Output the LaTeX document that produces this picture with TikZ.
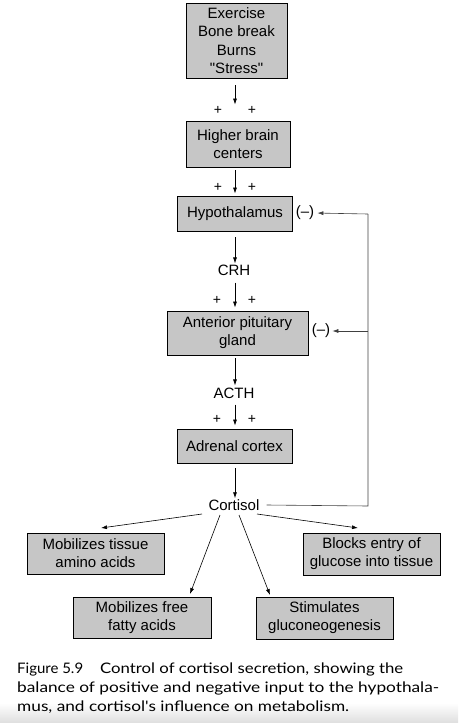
\documentclass[tikz,border=0pt]{standalone}
\usepackage{fontspec}
\usepackage{graphicx}
\setmainfont{Liberation Sans}
\newfontfamily\nomapfont{Liberation Sans}[Ligatures=ResetAll]
\newfontfamily\capfont{Lato}
\usetikzlibrary{arrows.meta,calc}
\definecolor{boxgray}{RGB}{198,198,198}
\definecolor{bandgray}{RGB}{222,222,222}
\begin{document}
\begin{tikzpicture}[x=1pt,y=-1pt,
  box/.style={draw=black,line width=0.8pt,fill=boxgray,align=center,inner sep=0pt,
    font=\fontsize{15}{18}\selectfont},
  lbl/.style={inner sep=0pt,font=\fontsize{15}{18}\selectfont},
  pl/.style={inner sep=0pt,font=\fontsize{14}{16}\selectfont},
  arr/.style={-{Latex[length=6pt,width=4pt]},line width=0.7pt},
  thinarr/.style={-{Latex[length=6pt,width=4pt]},line width=0.6pt},
  fbline/.style={line width=0.6pt,draw=black!75},
  captxt/.style={anchor=base west,inner sep=0pt,font=\capfont\fontsize{14.5}{17}\selectfont}]
\useasboundingbox (0,0) rectangle (458,723);
\shade[top color=white,bottom color=bandgray] (0,703) rectangle (458,723);

\node[box,minimum width=101pt,minimum height=75pt,font=\fontsize{15}{18.5}\selectfont] (stress) at (236.5,40.5) {Exercise\\Bone break\\Burns\\{\nomapfont"Stress"}};
\node[box,minimum width=104pt,minimum height=46pt] (brain) at (238,144) {Higher brain\\centers};
\node[box,minimum width=115pt,minimum height=35pt] (hypo) at (235,213.5) {Hypothalamus};
\node[lbl] (crh) at (234,270) {CRH};
\node[box,minimum width=141pt,minimum height=44pt] (ant) at (237.5,333) {Anterior pituitary\\gland};
\node[lbl] (acth) at (234,393) {ACTH};
\node[box,minimum width=115pt,minimum height=34pt] (adr) at (234.5,446) {Adrenal cortex};
\node[lbl] (cort) at (234,505) {Cortisol};

\node[box,minimum width=137pt,minimum height=41pt] (tissue) at (95.5,553.5) {Mobilizes tissue\\amino acids};
\node[box,minimum width=138pt,minimum height=41pt] (fatty) at (142,617.5) {Mobilizes free\\fatty acids};
\node[box,minimum width=137pt,minimum height=42pt] (gluco) at (324.5,618) {Stimulates\\gluconeogenesis};
\node[box,minimum width=137pt,minimum height=42pt] (blocks) at (371.5,554) {Blocks entry of\\glucose into tissue};

\node[lbl] (neg1) at (305,213) {(--)};
\node[lbl] (neg2) at (321,331) {(--)};

% pluses
\node[pl] (p1a) at (218,110) {+};
\node[pl] (p1b) at (252,110) {+};
\node[pl] (p2a) at (218,187) {+};
\node[pl] (p2b) at (252,187) {+};
\node[pl] (p3a) at (217,300) {+};
\node[pl] (p3b) at (252,300) {+};
\node[pl] (p4a) at (217,419) {+};
\node[pl] (p4b) at (252,419) {+};

% main chain
\draw[arr,shorten <=7pt,shorten >=16pt] (stress.south -| 235,0) -- (brain.north -| 235,0);
\draw[arr,shorten <=3pt,shorten >=2pt] (brain.south -| 235,0) -- (hypo.north -| 235,0);
\draw[arr,shorten <=6pt,shorten >=1pt] (hypo.south -| 235,0) -- (crh.north -| 235,0);
\draw[arr,shorten <=7pt,shorten >=3pt] (crh.south -| 235,0) -- (ant.north -| 235,0);
\draw[arr,shorten <=3pt,shorten >=2pt] (ant.south -| 235,0) -- (acth.north -| 235,0);
\draw[arr,shorten <=6pt,shorten >=3pt] (acth.south -| 235,0) -- (adr.north -| 235,0);
\draw[arr,shorten <=5pt,shorten >=1pt] (adr.south -| 235,0) -- (cort.north -| 235,0);

% feedback
\coordinate (fb) at (368,506);
\coordinate (fbtop) at (368,214);
\coordinate (fbmid) at (368,331);
\draw[fbline] ([xshift=7pt]cort.east) -- (fb) -- (fbtop);
\draw[fbline,thinarr,shorten >=3pt] (fbtop) -- (neg1.east);
\draw[fbline,thinarr,shorten >=2pt] (fbmid) -- (neg2.east);

% effects
\draw[thinarr] ($(cort)+(-32,9)$) -- ($(tissue)+(5.5,-25.5)$);
\draw[thinarr] ($(cort)+(-14,10)$) -- ($(fatty)+(48,-23.5)$);
\draw[thinarr] ($(cort)+(5,10)$) -- ($(gluco)+(-54.5,-23)$);
\draw[thinarr] ($(cort)+(23,9)$) -- ($(blocks)+(-13.5,-26)$);

% caption
\node[captxt] (c1a) at (17,673) {\resizebox{66pt}{\height}{Figure 5.9}};
\node[captxt] (c1b) at (100,673) {\resizebox{303pt}{\height}{Control of cortisol secretion, showing the}};
\node[captxt] (c2) at (17,692) {\resizebox{422pt}{\height}{balance of positive and negative input to the hypothala-}};
\node[captxt] (c3) at (17,711) {\resizebox{332pt}{\height}{mus, and cortisol's influence on metabolism.}};
\end{tikzpicture}
\end{document}
